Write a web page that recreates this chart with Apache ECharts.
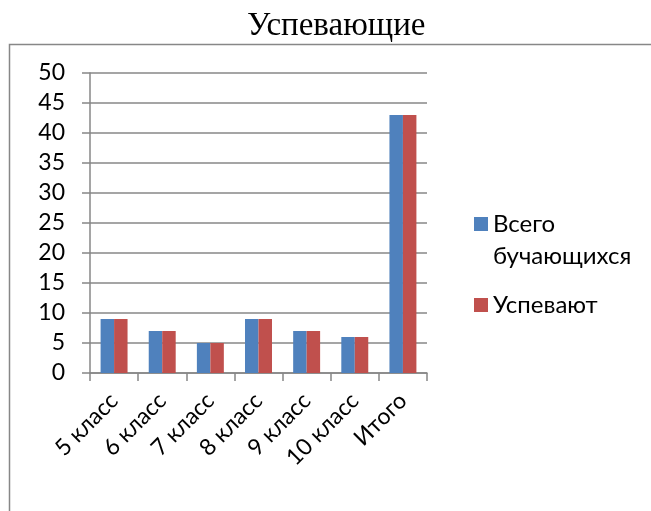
<!DOCTYPE html>
<html><head><meta charset="utf-8">
<script src="https://cdn.jsdelivr.net/npm/echarts@6/dist/echarts.min.js"></script>
<style>html,body{margin:0;padding:0;background:#fff}#c{width:651px;height:511px}</style>
</head><body><div id="c"></div>
<script>
const categories = ['5 класс','6 класс','7 класс','8 класс','9 класс','10 класс','Итого'];
const seriesNames = ['Всего бучающихся','Успевают'];
const totalStudents = [9,7,5,9,7,6,43];
const passing = [9,7,5,9,7,6,43];
const yTicks = {min:0, max:50, interval:5};
const titleText = 'Успевающие';

const chart = echarts.init(document.getElementById('c'), null, {renderer:'canvas'});
const axisColor = '#878787';
const font = 'Lato';
chart.setOption({
  animation:false,
  backgroundColor:'#fff',
  title:{text:titleText, left:242, top:5, textStyle:{fontFamily:'Liberation Serif', fontSize:33, fontWeight:'normal', color:'#000'}},
  graphic:[{type:'polyline', shape:{points:[[9.5,530],[9.5,44.5],[700,44.5]]}, style:{stroke:axisColor, lineWidth:1.5, fill:null}}],
  grid:{left:90, top:73, width:337, height:300},
  legend:{orient:'vertical', left:469, top:171, itemWidth:14, itemHeight:14, itemGap:17, icon:'rect',
    formatter: n => n === seriesNames[0] ? '\u00a0\nВсего\nбучающихся' : n,
    textStyle:{fontFamily:font, fontSize:24, color:'#000', lineHeight:32},
    data:[seriesNames[0], seriesNames[1]]},
  xAxis:{type:'category', data:categories,
    axisLine:{lineStyle:{color:axisColor, width:1.5}},
    axisTick:{show:true, length:8, alignWithLabel:false, lineStyle:{color:axisColor, width:1.5}},
    axisLabel:{rotate:45, interval:0, margin:24, fontFamily:font, fontSize:23, color:'#000'}},
  yAxis:{type:'value', min:yTicks.min, max:yTicks.max, interval:yTicks.interval,
    axisLine:{show:true, lineStyle:{color:axisColor, width:1.5}},
    axisTick:{show:true, length:8, lineStyle:{color:axisColor, width:1.5}},
    splitLine:{lineStyle:{color:axisColor, width:1.5}},
    axisLabel:{margin:25, fontFamily:font, fontSize:23, color:'#000'}},
  series:[
    {name:seriesNames[0], type:'bar', data:totalStudents, barGap:'0%', barCategoryGap:'44%', itemStyle:{color:'#4F81BD'}},
    {name:seriesNames[1], type:'bar', data:passing, barGap:'0%', barCategoryGap:'44%', itemStyle:{color:'#C0504D'}}
  ]
});
</script></body></html>
